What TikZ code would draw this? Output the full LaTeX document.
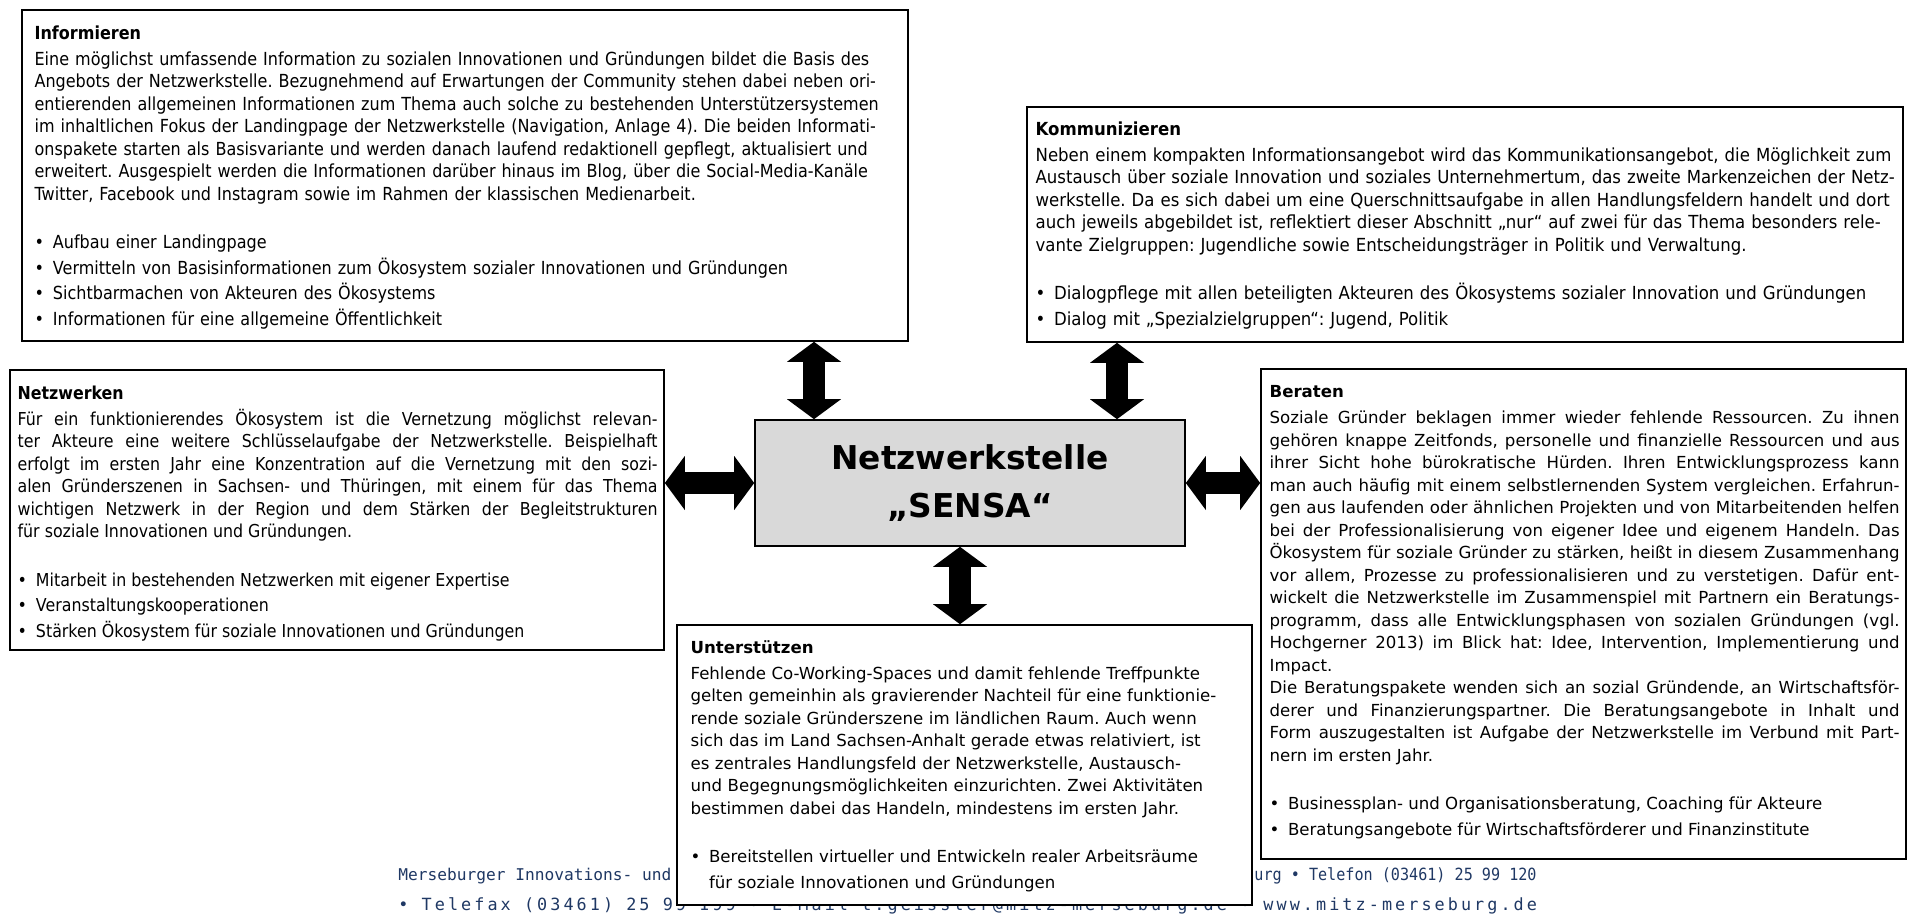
\documentclass[tikz,border=0pt]{standalone}
\usepackage{fontspec}
\setmainfont{DejaVu Sans}
\newfontfamily\schmal[FakeStretch=0.89]{DejaVu Sans}
\newfontfamily\schmalk[FakeStretch=0.92]{DejaVu Sans}
\newfontfamily\fussfont{DejaVu Sans Mono}
\newfontfamily\fussenge[FakeStretch=0.9]{DejaVu Sans Mono}
\newfontfamily\fussweit[LetterSpace=18.2]{DejaVu Sans Mono}
\usetikzlibrary{fit,arrows.meta,positioning}
\definecolor{fussblau}{HTML}{1F3864}
\hyphenpenalty=10000
\exhyphenpenalty=10000
\frenchspacing
\newcommand{\aufz}[1]{\makebox[9.2pt][l]{•}#1}
\tikzset{
  feld/.style={draw, line width=0.8pt, fill=white, inner sep=0pt},
  feldtext/.style={anchor=north west, inner sep=0pt, text width=#1},
  schmaltext/.style={font=\schmal\fontsize{9}{11.25}\selectfont},
  kommtext/.style={font=\schmalk\fontsize{9}{11.25}\selectfont},
  netztext/.style={font=\schmal\fontsize{8.9}{11.25}\selectfont},
  breittext/.style={font=\fontsize{8.3}{11.25}\selectfont},
  zentrumbox/.style={draw, line width=0.8pt, fill=black!15, align=center,
    minimum width=215pt, minimum height=63pt,
    font=\bfseries\fontsize{16.4}{24}\selectfont},
  doppelpfeil/.style={line width=11pt,
    {Triangle[width=26.5pt,length=10pt]}-{Triangle[width=26.5pt,length=10pt]}},
  fuss/.style={text=fussblau, inner sep=0pt, font=\fussfont\fontsize{8.4}{10}\selectfont}
}

\begin{document}
\begin{tikzpicture}[x=0.5pt, y=-0.5pt]
\useasboundingbox (0,0) rectangle (1910,916);
\fill[white] (0,0) rectangle (1910,916);

\node[fuss, font=\fussfont\fontsize{8.1}{10}\selectfont, anchor=west] (fusslinks) at (398,876)
  {Merseburger Innovations- und};
\node[fuss, font=\fussenge\fontsize{8.4}{10}\selectfont, anchor=east] (fussrechts) at (1537,876)
  {urg • Telefon (03461) 25 99 120};
\node[fuss, font=\fussweit\fontsize{8.4}{10}\selectfont, anchor=west] (fussunten) at (398,906)
  {• Telefax (03461) 25 99 199 • E-Mail t.geissler@mitz-merseburg.de • www.mitz-merseburg.de};

\node[feld, fit={(22,10) (908,341)}] (info) {};
\node[feld, fit={(1027,107) (1903,342)}] (komm) {};
\node[feld, fit={(10,370) (664,650)}] (netz) {};
\node[feld, fit={(1261,369) (1906,859)}] (beraten) {};
\node[feld, fit={(677,625) (1252,905)}] (unter) {};
\node[zentrumbox] (zentrum) at (970,483) {Netzwerkstelle\\„SENSA“};

\node[feldtext=445pt, schmaltext, align=left] (infotext) at ([shift={(13,16)}]info.north west) {%
{\bfseries Informieren}\\[1.75pt]
Eine möglichst umfassende Information zu sozialen Innovationen und Gründungen bildet die Basis des\\
Angebots der Netzwerkstelle. Bezugnehmend auf Erwartungen der Community stehen dabei neben ori-\\
entierenden allgemeinen Informationen zum Thema auch solche zu bestehenden Unterstützersystemen\\
im inhaltlichen Fokus der Landingpage der Netzwerkstelle (Navigation, Anlage 4). Die beiden Informati-\\
onspakete starten als Basisvariante und werden danach laufend redaktionell gepflegt, aktualisiert und\\
erweitert. Ausgespielt werden die Informationen darüber hinaus im Blog, über die Social-Media-Kanäle\\
Twitter, Facebook und Instagram sowie im Rahmen der klassischen Medienarbeit.\\[13pt]
\aufz{Aufbau einer Landingpage}\\[1.5pt]
\aufz{Vermitteln von Basisinformationen zum Ökosystem sozialer Innovationen und Gründungen}\\[1.5pt]
\aufz{Sichtbarmachen von Akteuren des Ökosystems}\\[1.5pt]
\aufz{Informationen für eine allgemeine Öffentlichkeit}};

\node[feldtext=445pt, kommtext, align=left] (kommtext) at ([shift={(9,15)}]komm.north west) {%
{\bfseries Kommunizieren}\\[1.75pt]
Neben einem kompakten Informationsangebot wird das Kommunikationsangebot, die Möglichkeit zum\\
Austausch über soziale Innovation und soziales Unternehmertum, das zweite Markenzeichen der Netz-\\
werkstelle. Da es sich dabei um eine Querschnittsaufgabe in allen Handlungsfeldern handelt und dort\\
auch jeweils abgebildet ist, reflektiert dieser Abschnitt „nur“ auf zwei für das Thema besonders rele-\\
vante Zielgruppen: Jugendliche sowie Entscheidungsträger in Politik und Verwaltung.\\[13pt]
\aufz{Dialogpflege mit allen beteiligten Akteuren des Ökosystems sozialer Innovation und Gründungen}\\[1.5pt]
\aufz{Dialog mit „Spezialzielgruppen“: Jugend, Politik}};

\node[feldtext=320pt, netztext, align=justify] (netztext) at ([shift={(8,16)}]netz.north west) {%
{\bfseries Netzwerken}\par\vspace{1.75pt}
Für ein funktionierendes Ökosystem ist die Vernetzung möglichst relevan-\linebreak
ter Akteure eine weitere Schlüsselaufgabe der Netzwerkstelle. Beispielhaft \linebreak
erfolgt im ersten Jahr eine Konzentration auf die Vernetzung mit den sozi-\linebreak
alen Gründerszenen in Sachsen- und Thüringen, mit einem für das Thema \linebreak
wichtigen Netzwerk in der Region und dem Stärken der Begleitstrukturen \linebreak
für soziale Innovationen und Gründungen.\par\vspace{13pt}
\aufz{Mitarbeit in bestehenden Netzwerken mit eigener Expertise}\par\vspace{1.5pt}
\aufz{Veranstaltungskooperationen}\par\vspace{1.5pt}
\aufz{Stärken Ökosystem für soziale Innovationen und Gründungen}};

\node[feldtext=315pt, breittext, align=justify] (beratentext) at ([shift={(9,17)}]beraten.north west) {%
{\bfseries Beraten}\par\vspace{1.75pt}
Soziale Gründer beklagen immer wieder fehlende Ressourcen. Zu ihnen \linebreak
gehören knappe Zeitfonds, personelle und finanzielle Ressourcen und aus \linebreak
ihrer Sicht hohe bürokratische Hürden. Ihren Entwicklungsprozess kann \linebreak
man auch häufig mit einem selbstlernenden System vergleichen. Erfahrun-\linebreak
gen aus laufenden oder ähnlichen Projekten und von Mitarbeitenden helfen \linebreak
bei der Professionalisierung von eigener Idee und eigenem Handeln. Das \linebreak
Ökosystem für soziale Gründer zu stärken, heißt in diesem Zusammenhang \linebreak
vor allem, Prozesse zu professionalisieren und zu verstetigen. Dafür ent-\linebreak
wickelt die Netzwerkstelle im Zusammenspiel mit Partnern ein Beratungs-\linebreak
programm, dass alle Entwicklungsphasen von sozialen Gründungen (vgl. \linebreak
Hochgerner 2013) im Blick hat: Idee, Intervention, Implementierung und \linebreak
Impact.\par
Die Beratungspakete wenden sich an sozial Gründende, an Wirtschaftsför-\linebreak
derer und Finanzierungspartner. Die Beratungsangebote in Inhalt und \linebreak
Form auszugestalten ist Aufgabe der Netzwerkstelle im Verbund mit Part-\linebreak
nern im ersten Jahr.\par\vspace{13pt}
\aufz{Businessplan- und Organisationsberatung, Coaching für Akteure}\par\vspace{1.5pt}
\aufz{Beratungsangebote für Wirtschaftsförderer und Finanzinstitute}};

\node[feldtext=285pt, breittext, align=left] (untertext) at ([shift={(14,16)}]unter.north west) {%
{\bfseries Unterstützen}\\[1.75pt]
Fehlende Co-Working-Spaces und damit fehlende Treffpunkte\\
gelten gemeinhin als gravierender Nachteil für eine funktionie-\\
rende soziale Gründerszene im ländlichen Raum. Auch wenn\\
sich das im Land Sachsen-Anhalt gerade etwas relativiert, ist\\
es zentrales Handlungsfeld der Netzwerkstelle, Austausch-\\
und Begegnungsmöglichkeiten einzurichten. Zwei Aktivitäten\\
bestimmen dabei das Handeln, mindestens im ersten Jahr.\\[13pt]
\aufz{Bereitstellen virtueller und Entwickeln realer Arbeitsräume}\\[1.5pt]
\hspace*{9.2pt}für soziale Innovationen und Gründungen};

\coordinate (pfinfo) at (814,0);
\coordinate (pfkomm) at (1117,0);
\coordinate (pfunter) at (960,0);
\draw[doppelpfeil] (zentrum.north -| pfinfo) -- (info.south -| pfinfo);
\draw[doppelpfeil] (zentrum.north -| pfkomm) -- (komm.south -| pfkomm);
\draw[doppelpfeil] (zentrum.west) -- (zentrum.west -| netz.east);
\draw[doppelpfeil] (zentrum.east) -- (zentrum.east -| beraten.west);
\draw[doppelpfeil] (zentrum.south -| pfunter) -- (unter.north -| pfunter);
\end{tikzpicture}
\end{document}
